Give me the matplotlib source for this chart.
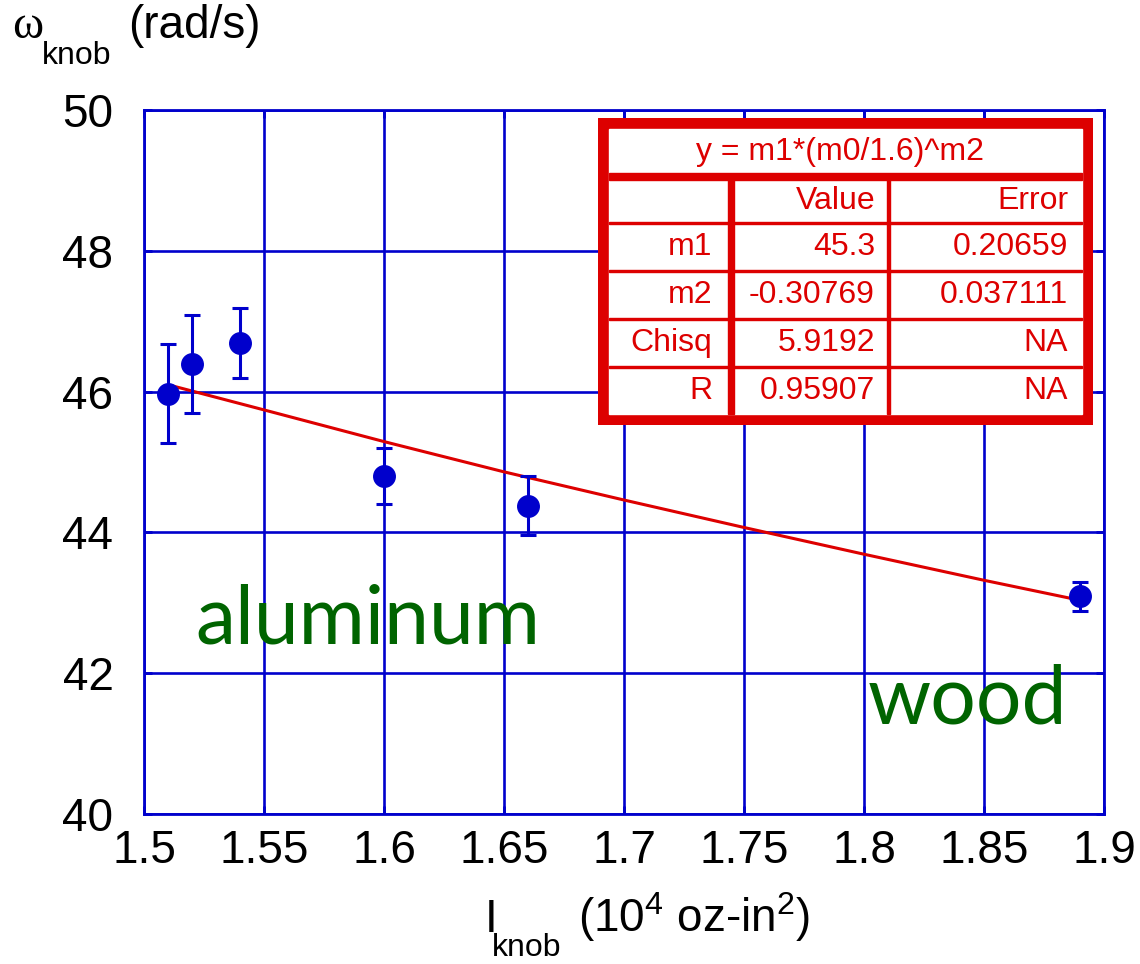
import matplotlib
matplotlib.use("Agg")
import matplotlib.pyplot as plt
from matplotlib.patches import Rectangle

# measured knob data
inertia = [1.51, 1.52, 1.54, 1.60, 1.66, 1.89]
omega = [45.97, 46.39, 46.69, 44.80, 44.38, 43.09]
omega_err = [0.70, 0.70, 0.50, 0.40, 0.42, 0.20]

# fitted curve
fit_x = [1.512, 1.55, 1.60, 1.65, 1.70, 1.75, 1.80, 1.85, 1.888]
fit_y = [46.08, 45.74, 45.29, 44.86, 44.46, 44.07, 43.69, 43.32, 43.05]

x_ticks = [1.5, 1.55, 1.6, 1.65, 1.7, 1.75, 1.8, 1.85, 1.9]
y_ticks = [40, 42, 44, 46, 48, 50]

fit_title = "y = m1*(m0/1.6)^m2"
tab_header = ["", "Value", "Error"]
tab_rows = ["m1", "m2", "Chisq", "R"]
tab_value = ["45.3", "-0.30769", "5.9192", "0.95907"]
tab_error = ["0.20659", "0.037111", "NA", "NA"]

BLUE = "#0000cc"
RED = "#dd0000"
GREEN = "#006400"

plt.rcParams["font.family"] = ["Liberation Sans", "DejaVu Sans"]
plt.rcParams["mathtext.fontset"] = "custom"
plt.rcParams["mathtext.rm"] = "Liberation Sans"
plt.rcParams["mathtext.default"] = "regular"

W, H = 1140, 964
fig = plt.figure(figsize=(W / 100, H / 100), dpi=100)


def fx(px):
    return px / W


def fy(py):
    return 1 - py / H


ax = fig.add_axes([fx(144), fy(814), fx(1104) - fx(144), fy(110) - fy(814)])

ax.errorbar(inertia, omega, yerr=omega_err, fmt="o", color=BLUE, ms=15.5,
            elinewidth=2.2, capsize=6, capthick=2.2, zorder=4)
ax.plot(fit_x, fit_y, color=RED, lw=2.2, zorder=3)

ax.set_xlim(1.5, 1.9)
ax.set_ylim(40, 50)
ax.set_xticks(x_ticks)
ax.set_xticklabels(["%g" % t for t in x_ticks])
ax.set_yticks(y_ticks)
ax.grid(True, color=BLUE, lw=1.9)
ax.set_axisbelow(True)
for s in ax.spines.values():
    s.set_color(BLUE)
    s.set_linewidth(2)
ax.tick_params(axis="both", direction="in", length=6, width=2, color=BLUE,
               labelsize=33, top=True, right=True)
ax.tick_params(axis="x", pad=11)
ax.tick_params(axis="y", pad=22)

ax.text(fx(195), fy(643), "aluminum", transform=fig.transFigure, color=GREEN,
        fontsize=58, family=["Lato", "DejaVu Sans"], va="baseline", ha="left")
ax.text(fx(1067), fy(723), "wood", transform=fig.transFigure, color=GREEN,
        fontsize=58, family=["Lato", "DejaVu Sans"], va="baseline", ha="right")

# axis labels built from pieces
fig.text(fx(12), fy(38), "\u03c9", fontsize=34, family=["Liberation Serif", "DejaVu Serif"],
         va="baseline")
fig.text(fx(42), fy(64), "knob", fontsize=23, va="baseline")
fig.text(fx(128), fy(38), "(rad/s)", fontsize=33, va="baseline")

fig.text(fx(485), fy(932), "I", fontsize=33, va="baseline")
fig.text(fx(492), fy(956), "knob", fontsize=23, va="baseline")
fig.text(fx(578), fy(932), "(10$^4$ oz-in$^2$)", fontsize=33, va="baseline")

# fit result table (local pixel units)
tw, th = 495, 307
tab = fig.add_axes([fx(598), fy(118 + th), fx(tw), 1 - fy(th)], zorder=5)
tab.set_xlim(0, tw)
tab.set_ylim(th, 0)
tab.axis("off")
tab.add_patch(Rectangle((0, 0), tw, th, color=RED))
tab.add_patch(Rectangle((11, 11), tw - 22, th - 22, color="white"))
tab.add_patch(Rectangle((11, 55), tw - 22, 7, color=RED))
for yl in [104, 152, 200, 248]:
    tab.add_patch(Rectangle((11, yl), tw - 22, 2, color=RED))
tab.add_patch(Rectangle((130, 62), 6, th - 73, color=RED))
tab.add_patch(Rectangle((289, 62), 2.5, th - 73, color=RED))

tab.text(242, 34, fit_title, color=RED, fontsize=23, ha="center", va="center")
col_x = [114, 277, 470]
row_y = [83, 129, 177, 225, 273]
for j, h in enumerate(tab_header):
    tab.text(col_x[j], row_y[0], h, color=RED, fontsize=23, ha="right", va="center")
for i in range(len(tab_rows)):
    cells = [tab_rows[i], tab_value[i], tab_error[i]]
    for j, c in enumerate(cells):
        tab.text(col_x[j], row_y[i + 1], c, color=RED, fontsize=23, ha="right", va="center")

fig.savefig("out.png", dpi=100)
